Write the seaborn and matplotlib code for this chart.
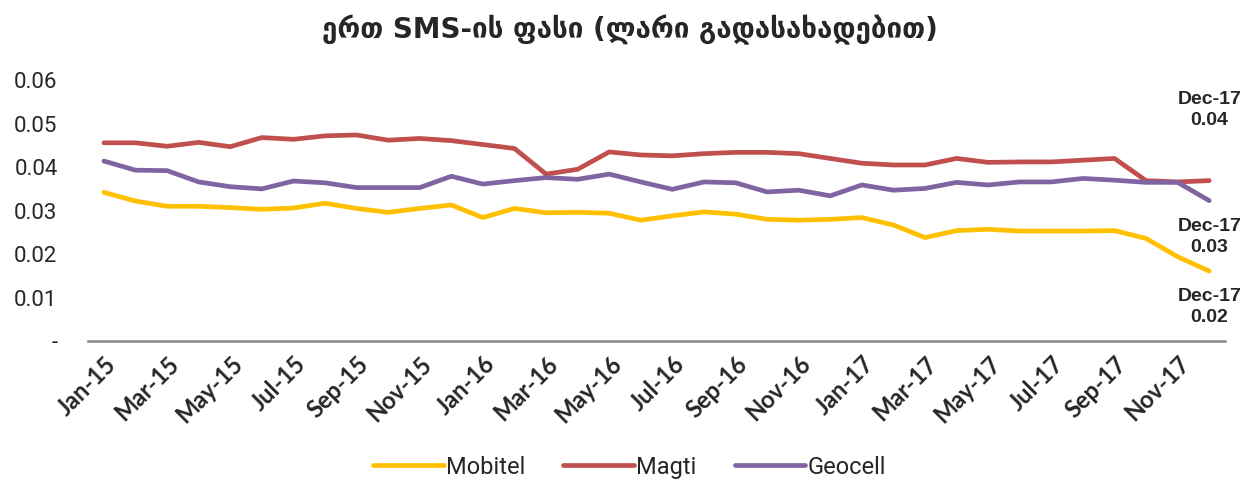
import matplotlib
matplotlib.use("Agg")
import matplotlib.pyplot as plt
import seaborn as sns
import numpy as np
import pandas as pd

sns.set_style('white')
plt.rcParams['font.family'] = ['Roboto', 'DejaVu Sans']

# months Jan-15 .. Dec-17
mon = ['Jan', 'Feb', 'Mar', 'Apr', 'May', 'Jun', 'Jul', 'Aug', 'Sep', 'Oct', 'Nov', 'Dec']
months = [f'{m}-{y}' for y in ['15', '16', '17'] for m in mon]

mobitel = [0.0342, 0.0322, 0.0310, 0.0310, 0.0307, 0.0303, 0.0306, 0.0317, 0.0305, 0.0296, 0.0305, 0.0313,
           0.0284, 0.0305, 0.0295, 0.0296, 0.0294, 0.0278, 0.0288, 0.0297, 0.0292, 0.0280, 0.0278, 0.0280,
           0.0284, 0.0267, 0.0238, 0.0254, 0.0257, 0.0253, 0.0253, 0.0253, 0.0254, 0.0236, 0.0194, 0.0161]
magti = [0.0456, 0.0456, 0.0448, 0.0457, 0.0447, 0.0468, 0.0464, 0.0472, 0.0474, 0.0462, 0.0466, 0.0461,
         0.0452, 0.0443, 0.0384, 0.0395, 0.0435, 0.0428, 0.0426, 0.0431, 0.0434, 0.0434, 0.0431, 0.0420,
         0.0409, 0.0405, 0.0405, 0.0420, 0.0411, 0.0412, 0.0412, 0.0416, 0.0420, 0.0369, 0.0366, 0.0369]
geocell = [0.0414, 0.0393, 0.0392, 0.0366, 0.0355, 0.0350, 0.0368, 0.0364, 0.0353, 0.0353, 0.0353, 0.0379,
           0.0361, 0.0369, 0.0376, 0.0372, 0.0384, 0.0366, 0.0349, 0.0366, 0.0364, 0.0343, 0.0347, 0.0334,
           0.0359, 0.0347, 0.0351, 0.0365, 0.0359, 0.0366, 0.0366, 0.0374, 0.0370, 0.0365, 0.0365, 0.0323]

operators = ['Mobitel', 'Magti', 'Geocell']
colors = ['#FFC000', '#C0504D', '#8064A2']
end_labels = ['Dec-17\n0.02', 'Dec-17\n0.04', 'Dec-17\n0.03']
label_y = [0.0078, 0.0531, 0.0239]

df = pd.DataFrame({
    'idx': list(range(len(months))) * 3,
    'value': mobitel + magti + geocell,
    'operator': [o for o in operators for _ in months],
})

fig = plt.figure(figsize=(12.59, 4.95), dpi=100)
ax = fig.add_axes([0.07, 0.311, 0.903, 0.527])

sns.lineplot(data=df, x='idx', y='value', hue='operator', hue_order=operators,
             palette=colors, linewidth=3.4, ax=ax, legend=False)

ax.set_xlim(-0.5, 35.5)
ax.set_ylim(0, 0.06)
ax.set_xlabel('')
ax.set_ylabel('')

ax.set_xticks(range(0, len(months), 2))
ax.set_xticklabels(months[::2], rotation=45, ha='right', rotation_mode='anchor',
                   fontsize=17, fontweight='bold', family=['Lato', 'DejaVu Sans'])
yt = [0, 0.01, 0.02, 0.03, 0.04, 0.05, 0.06]
ax.set_yticks(yt)
ax.set_yticklabels(['-'] + [f'{v:.2f}' for v in yt[1:]], fontsize=16)
ax.tick_params(axis='both', length=0)
ax.tick_params(axis='x', pad=8)
ax.tick_params(axis='y', pad=22)

for s in ['top', 'right', 'left']:
    ax.spines[s].set_visible(False)
ax.spines['bottom'].set_color('#888888')
ax.spines['bottom'].set_linewidth(1.8)

for lab, yv in zip(end_labels, label_y):
    ax.text(35, yv, lab, ha='center', va='center', fontsize=14, fontweight='bold',
            family=['Liberation Sans', 'DejaVu Sans'], linespacing=1.35)

fig.suptitle('ერთ SMS-ის ფასი (ლარი გადასახადებით)', y=0.97, fontsize=20,
             fontweight='bold', family=['DejaVu Sans'])

handles = [plt.Line2D([], [], color=c, linewidth=3.4) for c in colors]
fig.legend(handles, operators, loc='lower center', bbox_to_anchor=(0.5, -0.01), ncol=3,
           frameon=False, fontsize=17, handlelength=3.0, handletextpad=0.1, columnspacing=1.6)

fig.savefig('out.png', dpi=100)
